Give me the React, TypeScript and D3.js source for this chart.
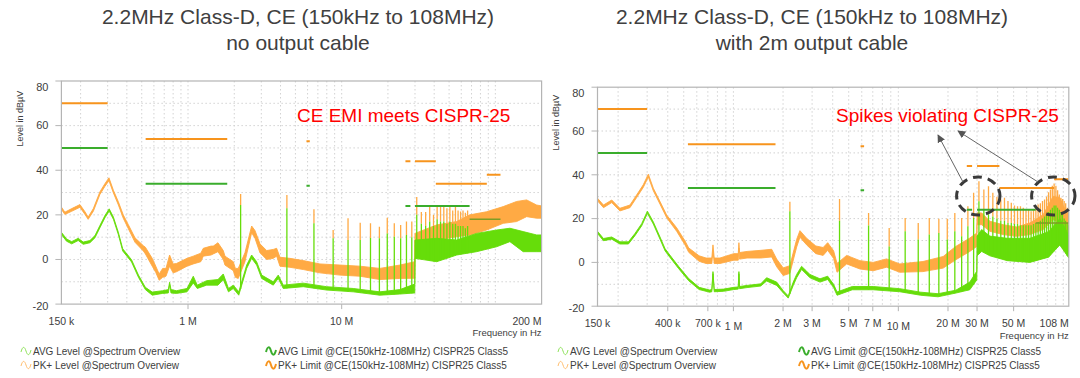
import React from "react";
import * as d3 from "d3";

// ---------------- shared: CISPR25 Class5 limits ----------------
const PK_LIM_F0 = [0.15, 0.53, 5.9, 26, 30, 41, 88];
const PK_LIM_F1 = [0.3, 1.8, 6.2, 28, 41, 88, 108];
const PK_LIM_V = [70, 54, 53, 44, 44, 34, 38];
const AVG_LIM_F0 = [0.15, 0.53, 5.9, 26, 30, 68];
const AVG_LIM_F1 = [0.3, 1.8, 6.2, 28, 68, 108];
const AVG_LIM_V = [50, 34, 33, 24, 24, 18];

// 2.2 MHz switching harmonics (MHz)
const HARM_F = [2.2, 4.4, 6.6, 8.8, 11, 13.2, 15.4, 17.6, 19.8, 22, 24.2, 26.4, 28.6, 30.8, 33, 35.2, 37.4, 39.6, 41.8, 44, 46.2, 48.4, 50.6, 52.8, 55, 57.2, 59.4, 61.6, 63.8, 66, 68.2, 70.4, 72.6, 74.8, 77, 79.2, 81.4, 83.6, 85.8, 88, 90.2, 92.4, 94.6, 96.8, 99, 101.2, 103.4, 105.6, 107.8];

// ---------------- LEFT: no output cable ----------------
const L_PK_F = [0.15, 0.158, 0.175, 0.198, 0.214, 0.224, 0.242, 0.267, 0.288, 0.306, 0.327, 0.352, 0.379, 0.409, 0.452, 0.512, 0.528, 0.585, 0.617, 0.649, 0.684, 0.719, 0.759, 0.8, 0.841, 0.985, 1.082, 1.211, 1.257, 1.411, 1.46, 1.566, 1.696, 1.74, 1.971, 2.033, 2.123, 2.347, 2.595, 2.727, 2.94, 3.249, 3.587, 3.774, 3.966, 4.608, 5.624, 7.221, 9.74, 13.15, 17.7, 23.9, 29.9, 30, 41.5, 56, 68.3, 87.7, 112.5, 137.5, 159.8, 185.6, 200];
const L_PK_LO = [22.5, 20.2, 21.6, 23.4, 20.1, 18.0, 21.6, 29.1, 32.8, 35.3, 29.8, 24.5, 18.5, 13.8, 7.7, 3.8, 2.5, -3.0, -5.8, -9.3, -8.0, -7.5, -3.0, -6.0, -5.5, -3.0, -2.0, -1.0, 1.5, 2.0, 2.5, 3.5, 0.0, -2.5, -5.0, -8.0, -8.5, -1.0, 12.0, 9.5, 3.0, 0.0, 0.5, 1.5, -3.0, -3.5, -4.5, -6.0, -7.0, -7.5, -9.0, -8.5, -8.4, 8.7, 8.7, 10.2, 11.0, 13.2, 16.2, 17.0, 19.2, 18.5, 18.5];
const L_PK_HI = [23.5, 21.2, 22.8, 24.6, 21.3, 19.0, 22.8, 30.3, 34.0, 36.6, 31.0, 25.9, 20.0, 15.6, 9.7, 6.2, 5.5, 0.5, -3.0, -6.5, -4.0, -4.0, 2.0, -2.0, -1.8, 0.5, 1.5, 2.8, 5.0, 6.0, 6.0, 7.5, 4.0, 1.5, -1.0, -4.0, -4.0, 3.0, 15.0, 13.0, 7.0, 4.0, 4.5, 5.0, 1.0, 0.5, -0.5, -2.0, -2.5, -3.0, -4.0, -2.5, -1.0, 11.7, 15.5, 17.0, 20.0, 21.4, 23.7, 26.0, 26.7, 24.4, 24.0];

const L_AVG_F = [0.15, 0.162, 0.175, 0.193, 0.208, 0.23, 0.248, 0.267, 0.288, 0.307, 0.327, 0.352, 0.376, 0.429, 0.476, 0.528, 0.585, 0.684, 0.745, 0.759, 0.775, 0.841, 0.985, 1.082, 1.149, 1.322, 1.566, 1.696, 1.834, 1.971, 2.14, 2.409, 2.595, 2.797, 3.015, 3.587, 3.866, 4.167, 5.624, 7.98, 11.89, 17.7, 23.9, 29.9, 30, 41.5, 56, 75.5, 101.9, 124.4, 151.8, 185.6, 200];
const L_AVG_LO = [11.2, 8.2, 7.0, 8.5, 6.8, 7.5, 9.7, 14.2, 18.7, 21.7, 18.0, 11.2, 3.8, -1.1, -8.0, -13.5, -16.0, -15.2, -15.0, -11.2, -15.0, -15.2, -14.5, -10.5, -13.0, -11.5, -11.5, -9.0, -14.5, -13.0, -16.0, -4.0, 0.5, -2.5, -8.5, -11.5, -8.5, -13.0, -12.2, -13.7, -14.5, -16.0, -15.5, -15.0, 0.5, -1.0, 2.0, 3.5, 5.7, 8.0, 3.5, 3.5, 3.5];
const L_AVG_HI = [12.2, 9.2, 8.0, 9.5, 7.8, 8.5, 10.7, 15.2, 19.7, 22.7, 19.0, 12.2, 4.8, -0.1, -7.0, -12.5, -14.6, -14.0, -13.5, -10.2, -13.5, -14.0, -13.0, -7.5, -11.5, -9.5, -9.0, -6.5, -13.0, -11.5, -14.5, -2.5, 2.0, -1.0, -7.0, -10.0, -7.0, -11.5, -10.6, -12.2, -13.0, -14.5, -13.5, -11.0, 8.7, 9.5, 8.7, 11.7, 13.2, 14.0, 12.5, 11.0, 11.0];

const L_SPK_PK = [29.4, 28.9, 22.5, 13.2, 18.5, 16.5, 16.2, 14.7, 18.7, 16.2, 15.5, 17, 17, 28, 21.3, 21.3, 23.5, 20, 24.4, 24, 24.4, 23, 24.4, 22, 23.5, 22, 21.5, 22, 21, 22];
const L_SPK_AVG = [24.4, 23, 16.2, 9.5, 8.7, 8.7, 9.6, 9.5, 11.7, 10.2, 9.5, 11, 10, 20, 16, 15, 17, 15, 18, 17, 17, 16, 17, 16, 16, 15, 15, 15, 14, 15];

// ---------------- RIGHT: with 2m output cable ----------------
const R_PK_F = [0.15, 0.163, 0.183, 0.205, 0.236, 0.259, 0.284, 0.305, 0.327, 0.359, 0.394, 0.453, 0.509, 0.536, 0.62, 0.683, 0.74, 0.752, 0.765, 0.829, 1.005, 1.07, 1.08, 1.09, 1.21, 1.464, 1.706, 1.83, 2.005, 2.2, 2.418, 2.532, 2.78, 3.16, 3.5, 3.73, 4.05, 4.25, 4.86, 5.85, 7.04, 8.49, 10.2, 14.1, 18.7, 22.3, 27.1, 29.9, 30, 32, 35.9, 43.2, 52.1, 62.7, 75.5, 86.8, 95.3, 103.6, 108];
const R_PK_LO = [28.1, 25.0, 27.3, 23.5, 25.0, 29.6, 34.2, 39.0, 32.7, 26.6, 20.4, 14.2, 8.0, 4.6, 0.5, -0.5, -0.5, 5.5, -0.5, -0.5, 1.0, 1.0, 6.5, 1.5, 2.0, 2.0, 2.5, -2.0, -6.0, -5.0, 7.0, 11.5, 8.0, 4.0, 3.2, 5.5, 1.8, -4.5, -0.7, -3.0, -3.8, -2.2, -4.5, -4.2, -2.6, 1.2, 5.0, 7.3, 17.2, 17.2, 14.2, 12.7, 11.9, 12.7, 15.0, 19.5, 18.0, 14.2, 13.0];
const R_PK_HI = [29.3, 26.2, 28.5, 24.7, 26.2, 30.8, 35.4, 40.3, 33.9, 27.8, 21.6, 15.8, 9.8, 6.6, 3.0, 2.0, 2.0, 8.0, 2.0, 2.0, 4.0, 4.0, 9.0, 4.5, 5.0, 5.5, 6.0, 1.5, -2.5, -1.5, 10.5, 14.5, 11.0, 7.5, 6.8, 9.0, 5.3, -0.5, 3.2, 0.8, 0.0, 1.6, -0.7, 0.4, 2.7, 7.3, 11.1, 13.4, 22.6, 22.6, 18.8, 17.2, 16.2, 18.0, 21.8, 30.2, 29.5, 23.4, 22.0];

const R_AVG_F = [0.15, 0.163, 0.183, 0.205, 0.231, 0.253, 0.278, 0.301, 0.327, 0.359, 0.385, 0.401, 0.465, 0.536, 0.62, 0.717, 0.74, 0.752, 0.765, 0.87, 1.005, 1.07, 1.08, 1.09, 1.21, 1.464, 1.59, 1.83, 2.005, 2.15, 2.306, 2.418, 2.59, 2.78, 2.91, 3.35, 3.73, 4.05, 4.25, 5.26, 7.04, 10.2, 13.66, 17.4, 22.3, 27.1, 29.9, 30, 32, 35.9, 45.7, 62.7, 81.5, 95.3, 103.6, 108];
const R_AVG_LO = [13.2, 9.9, 10.6, 8.4, 8.4, 12.2, 16.7, 22.4, 17.5, 10.6, 5.3, 3.5, -2.8, -8.4, -12.4, -13.6, -13.4, -5.2, -13.4, -13.2, -12.4, -12.2, -5.2, -12.0, -11.5, -10.8, -8.5, -10.5, -13.9, -16.3, -10.5, -7.0, -3.2, -5.5, -7.0, -9.0, -7.8, -11.5, -15.0, -12.5, -12.5, -13.4, -15.0, -15.7, -14.0, -12.5, -8.0, 3.0, 5.0, 3.0, 0.8, 0.0, 2.4, 8.0, 4.0, 2.0];
const R_AVG_HI = [14.2, 10.9, 11.6, 9.4, 9.4, 13.2, 17.7, 23.4, 18.5, 11.6, 6.3, 4.5, -1.8, -7.4, -11.4, -12.6, -12.4, -4.2, -12.4, -12.2, -11.4, -11.2, -4.2, -11.0, -10.5, -9.8, -7.0, -9.0, -12.9, -15.3, -9.0, -5.5, -1.8, -4.0, -5.5, -7.5, -6.3, -10.0, -13.5, -11.0, -11.0, -12.0, -13.6, -14.3, -12.7, -9.0, -4.0, 12.0, 15.0, 12.0, 11.0, 11.0, 14.0, 20.0, 15.0, 12.0];

const R_SPK_PK = [27.7, 29, 22.6, 15.7, 20.3, 18, 20.3, 19.9, 19.9, 22.6, 20.3, 25.6, 31.8, 37.1, 33.3, 34.8, 31.8, 30, 28.7, 29.5, 28, 27.2, 26, 25.6, 25.6, 25, 24.1, 24, 23.4, 24, 26, 26.4, 27, 28, 28.7, 30, 32, 33.3, 35, 36, 35, 33, 31, 29.5, 29, 28, 27, 25, 24];
const R_SPK_AVG = [23.3, 19, 16.8, 7.3, 14.2, 10.4, 12.7, 13.4, 10.4, 14.2, 11.9, 16.5, 20.3, 27.9, 24, 22, 21, 20, 19, 19, 18, 18, 17.5, 17.5, 17, 17, 17, 17, 17, 17.5, 18, 18.5, 19, 20, 21, 22, 23, 24, 25, 26, 26, 25, 24, 23, 22, 20, 19, 18, 17];

const Y_TICKS = [-20, 0, 20, 40, 60, 80];
const L_XTICKS = [0.15, 1, 10, 200];
const L_XLABELS = ["150 k", "1 M", "10 M", "200 M"];
const R_XTICKS = [0.15, 0.4, 0.7, 1, 2, 3, 5, 7, 10, 20, 30, 50, 108];
const R_XLABELS = ["150 k", "400 k", "700 k", "1 M", "2 M", "3 M", "5 M", "7 M", "10 M", "20 M", "30 M", "50 M", "108 M"];

const FONT = "'Liberation Sans', Arial, Helvetica, sans-serif";
const C_PK = "#ffaa44";
const C_AVG = "#66dd0a";
const C_PK_LIM = "#f7941d";
const C_AVG_LIM = "#3aad2c";
const C_OLIVE = "#7f9c24";
const C_GRID = "#d2d2d2";
const C_FRAME = "#b4b4b4";
const C_TXT = "#404040";

function interp(F: number[], V: number[], f: number) {
  if (f <= F[0]) return V[0];
  for (let i = 0; i < F.length - 1; i++) {
    if (f >= F[i] && f <= F[i + 1]) {
      if (F[i + 1] === F[i]) return V[i + 1];
      const t = (Math.log(f) - Math.log(F[i])) / (Math.log(F[i + 1]) - Math.log(F[i]));
      return V[i] + t * (V[i + 1] - V[i]);
    }
  }
  return V[V.length - 1];
}

type ChartProps = {
  id: string;
  x0: number; x1: number; yTop: number; yBot: number; fMax: number;
  pkF: number[]; pkLo: number[]; pkHi: number[];
  avgF: number[]; avgLo: number[]; avgHi: number[];
  spkPk: number[]; spkAvg: number[];
  xTicks: number[]; xLabels: string[];
  yLabelX: number;
  legX: number; legX2: number;
};

function Chart(p: ChartProps) {
  const x = d3.scaleLog().domain([0.15, p.fMax]).range([p.x0, p.x1]);
  const y = d3.scaleLinear().domain([-20, 80]).range([p.yBot, p.yTop]);

  const grid: number[] = [];
  for (let k = -1; k <= 2; k++) {
    for (let n = 1; n <= 9; n++) {
      const v = n * Math.pow(10, k);
      if (v > 0.15 * 1.001 && v < p.fMax * 0.999) grid.push(v);
    }
  }
  const hGrid: number[] = [];
  for (let v = -10; v < 80; v += 10) hGrid.push(v);

  const band = (F: number[], LO: number[], HI: number[]) =>
    d3.area<number>()
      .x((i) => x(F[i]))
      .y0((i) => y(LO[i]))
      .y1((i) => y(HI[i]))(d3.range(F.length)) || "";

  const spikesF = HARM_F.slice(0, p.spkPk.length);

  const clip = `clip-${p.id}`;
  const yMid = (p.yTop + p.yBot) / 2;

  return (
    <g>
      <defs>
        <clipPath id={clip}>
          <rect x={p.x0} y={p.yTop} width={p.x1 - p.x0} height={p.yBot - p.yTop} />
        </clipPath>
      </defs>
      {/* grid */}
      {grid.map((g, i) => (
        <line key={"vg" + i} x1={x(g)} x2={x(g)} y1={p.yTop} y2={p.yBot} stroke={C_GRID} strokeWidth={1} strokeDasharray="1.5,2.5" />
      ))}
      {hGrid.map((v, i) => (
        <line key={"hg" + i} x1={p.x0} x2={p.x1} y1={y(v)} y2={y(v)} stroke={C_GRID} strokeWidth={1} strokeDasharray="1.5,2.5" />
      ))}
      <g clipPath={`url(#${clip})`}>
        {/* PK trace */}
        <path d={band(p.pkF, p.pkLo, p.pkHi)} fill={C_PK} stroke={C_PK} strokeWidth={0.9} strokeLinejoin="round" />
        {/* AVG trace */}
        <path d={band(p.avgF, p.avgLo, p.avgHi)} fill={C_AVG} stroke={C_AVG} strokeWidth={0.9} strokeLinejoin="round" />
        {/* spikes */}
        {spikesF.map((f, i) => {
          const base = interp(p.avgF, p.avgLo, f);
          return (
            <g key={"s" + i}>
              <line x1={x(f)} x2={x(f)} y1={y(p.spkAvg[i])} y2={y(p.spkPk[i])} stroke={C_PK} strokeWidth={1.3} />
              <line x1={x(f)} x2={x(f)} y1={y(base)} y2={y(p.spkAvg[i])} stroke={C_AVG} strokeWidth={1.3} />
            </g>
          );
        })}
        {/* limits */}
        {PK_LIM_V.map((v, i) => (
          <line key={"pl" + i} x1={x(PK_LIM_F0[i])} x2={x(Math.min(PK_LIM_F1[i], p.fMax))} y1={y(v)} y2={y(v)} stroke={C_PK_LIM} strokeWidth={2} />
        ))}
        {AVG_LIM_V.map((v, i) => {
          const last = i === AVG_LIM_V.length - 1;
          return (
            <line key={"al" + i} x1={x(AVG_LIM_F0[i])} x2={x(Math.min(AVG_LIM_F1[i], p.fMax))} y1={y(v)} y2={y(v)} stroke={last ? C_OLIVE : C_AVG_LIM} strokeWidth={last ? 1.5 : 2} />
          );
        })}
      </g>
      {/* frame */}
      <rect x={p.x0} y={p.yTop} width={p.x1 - p.x0} height={p.yBot - p.yTop} fill="none" stroke={C_FRAME} strokeWidth={1.2} />
      {/* y ticks */}
      {Y_TICKS.map((v, i) => {
        const ty = y(v) + (v === 80 ? 6 : v === -20 ? 2 : 0);
        return (
          <g key={"yt" + i}>
            <line x1={p.x0 - 6} x2={p.x0} y1={y(v)} y2={y(v)} stroke={C_FRAME} strokeWidth={1} />
            <text x={p.x0 - 13} y={ty} dy="0.35em" textAnchor="end" fontSize={11} fill={C_TXT} fontFamily={FONT}>{v}</text>
          </g>
        );
      })}
      <text transform={`translate(${p.yLabelX},${yMid - 74}) rotate(-90)`} textAnchor="middle" fontSize={9} fill={C_TXT} fontFamily={FONT} dy="0.35em">Level in dBµV</text>
      {/* x ticks */}
      {p.xTicks.map((f, i) => {
        const last = i === p.xTicks.length - 1;
        const low = p.xLabels[i] === "1 M" || p.xLabels[i] === "10 M";
        return (
          <g key={"xt" + i}>
            {i > 0 && !last && <line x1={x(f)} x2={x(f)} y1={p.yBot} y2={p.yBot + 5} stroke={C_FRAME} strokeWidth={1} />}
            <text x={last ? p.x1 : x(f)} y={p.yBot + 17 + (low && p.id === "R" ? 3 : 0)} dy="0.35em" textAnchor={last ? "end" : "middle"} fontSize={10.5} fill={C_TXT} fontFamily={FONT}>{p.xLabels[i]}</text>
          </g>
        );
      })}
      <text x={p.x1} y={p.yBot + 29} dy="0.35em" textAnchor="end" fontSize={9.5} fill={C_TXT} fontFamily={FONT}>Frequency in Hz</text>
      {/* legend */}
      <Legend x={p.legX} y={351} color="#8fe35a" w={1} label="AVG Level @Spectrum Overview" />
      <Legend x={p.legX} y={365} color="#ffbf70" w={1} label="PK+ Level @Spectrum Overview" />
      <Legend x={p.legX2} y={351} color={C_AVG_LIM} w={2} label="AVG Limit @CE(150kHz-108MHz) CISPR25 Class5" />
      <Legend x={p.legX2} y={365} color={C_PK_LIM} w={2} label="PK+ Limit @CE(150kHz-108MHz) CISPR25 Class5" />
    </g>
  );
}

function Legend({ x, y, color, w, label }: { x: number; y: number; color: string; w: number; label: string }) {
  const d = `M${x},${y + 1} C${x + 1.5},${y - 5} ${x + 3.5},${y - 5} ${x + 5},${y} S${x + 8.5},${y + 5} ${x + 10},${y - 1}`;
  return (
    <g>
      <path d={d} fill="none" stroke={color} strokeWidth={w} />
      <text x={x + 12} y={y} dy="0.35em" fontSize={10} fill={C_TXT} fontFamily={FONT}>{label}</text>
    </g>
  );
}

export default function App() {
  return (
    <svg width={1080} height={378} style={{ position: "absolute", left: 0, top: 0, background: "#fff" }} fontFamily={FONT}>
      <defs>
        <marker id="arrowHead" viewBox="0 0 10 10" refX="9" refY="5" markerWidth="8" markerHeight="8" orient="auto" markerUnits="userSpaceOnUse">
          <path d="M0,0 L10,5 L0,10 z" fill="#555" />
        </marker>
      </defs>
      <rect x={0} y={0} width={1080} height={378} fill="#fff" />
      {/* titles */}
      <text x={298} y={24} textAnchor="middle" fontSize={21} fill={C_TXT}>2.2MHz Class-D, CE (150kHz to 108MHz)</text>
      <text x={298} y={50} textAnchor="middle" fontSize={21} fill={C_TXT}>no output cable</text>
      <text x={812} y={24} textAnchor="middle" fontSize={21} fill={C_TXT}>2.2MHz Class-D, CE (150kHz to 108MHz)</text>
      <text x={812} y={50} textAnchor="middle" fontSize={21} fill={C_TXT}>with 2m output cable</text>

      <Chart id="L" x0={61.4} x1={541.6} yTop={81} yBot={304.1} fMax={200}
        pkF={L_PK_F} pkLo={L_PK_LO} pkHi={L_PK_HI}
        avgF={L_AVG_F} avgLo={L_AVG_LO} avgHi={L_AVG_HI}
        spkPk={L_SPK_PK} spkAvg={L_SPK_AVG}
        xTicks={L_XTICKS} xLabels={L_XLABELS} yLabelX={19.5} legX={21} legX2={266} />
      <Chart id="R" x0={597.5} x1={1068.8} yTop={87.2} yBot={306.2} fMax={108}
        pkF={R_PK_F} pkLo={R_PK_LO} pkHi={R_PK_HI}
        avgF={R_AVG_F} avgLo={R_AVG_LO} avgHi={R_AVG_HI}
        spkPk={R_SPK_PK} spkAvg={R_SPK_AVG}
        xTicks={R_XTICKS} xLabels={R_XLABELS} yLabelX={556} legX={558} legX2={799} />

      {/* annotations */}
      <text x={297} y={122} fontSize={19} fill="#ff0000">CE EMI meets CISPR-25</text>
      <text x={836} y={122} fontSize={19} fill="#ff0000">Spikes violating CISPR-25</text>
      <ellipse cx={978.3} cy={196} rx={21.7} ry={19} fill="none" stroke="#3a3a3a" strokeWidth={3} strokeDasharray="9,6" />
      <ellipse cx={1053.3} cy={196} rx={21.7} ry={19} fill="none" stroke="#3a3a3a" strokeWidth={3} strokeDasharray="9,6" />
      <line x1={963} y1={182} x2={938} y2={135} stroke="#666" strokeWidth={1} markerEnd="url(#arrowHead)" />
      <line x1={1038} y1={182} x2={958} y2={131} stroke="#666" strokeWidth={1} markerEnd="url(#arrowHead)" />
    </svg>
  );
}
